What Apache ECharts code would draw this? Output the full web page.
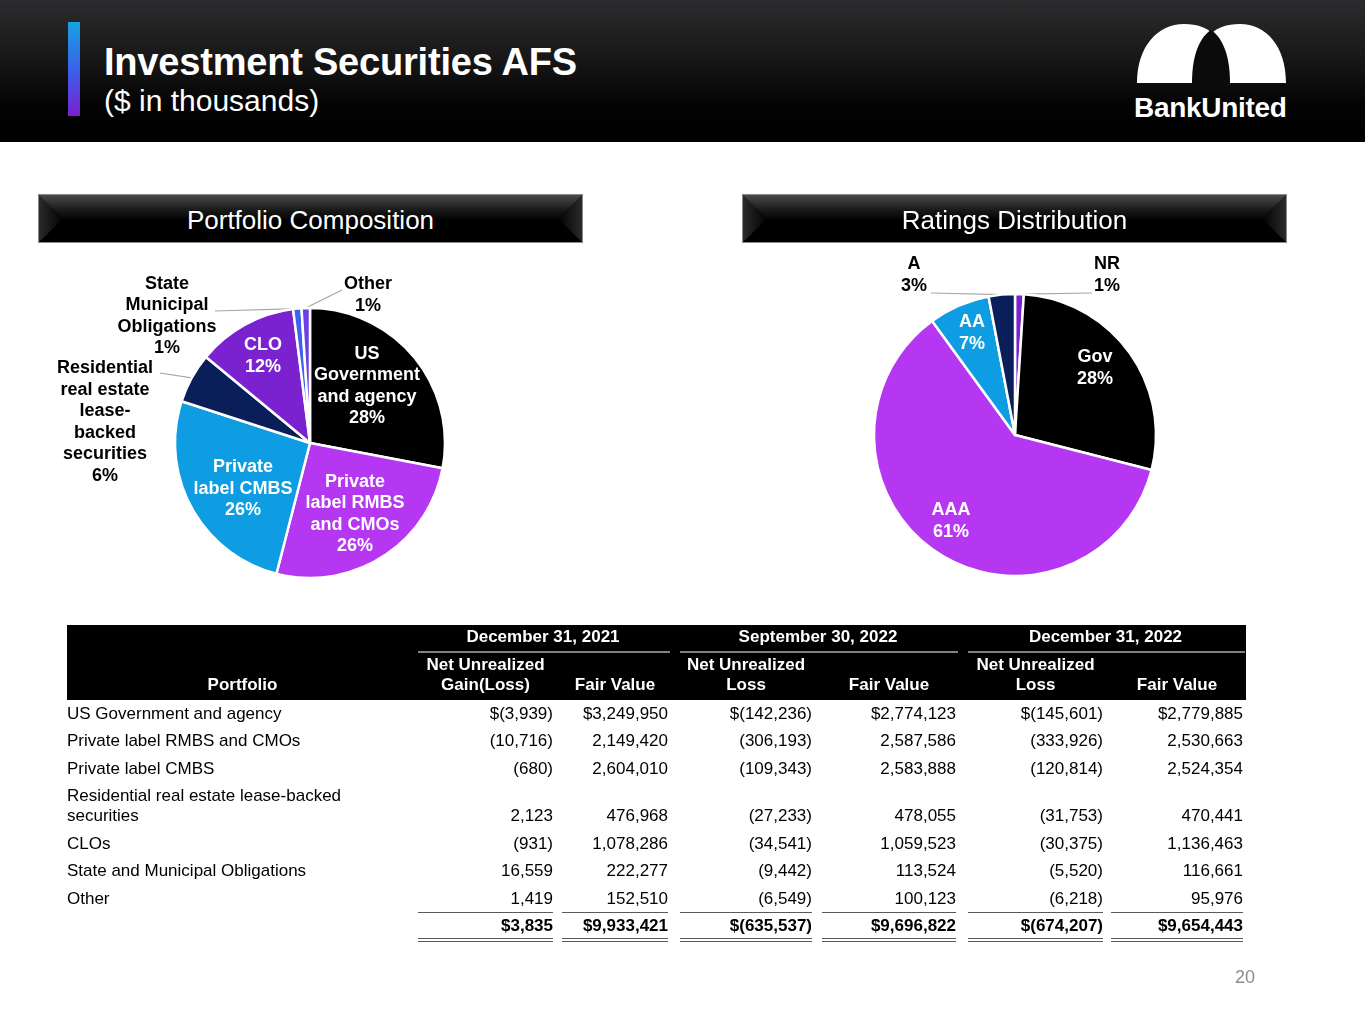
<!DOCTYPE html>
<html>
<head>
<meta charset="utf-8">
<title>Investment Securities AFS</title>
<script src="https://cdn.jsdelivr.net/npm/echarts/dist/echarts.min.js"></script>
<style>
  body { margin: 0; width: 1365px; height: 1024px; background: #fff; position: relative; overflow: hidden;
         font-family: Arial, "Liberation Sans", sans-serif; }
  #chart { position: absolute; left: 0; top: 0; width: 1365px; height: 1024px; }
  #header { position: absolute; left: 0; top: 0; width: 1365px; height: 142px;
            background: linear-gradient(to bottom, #2c2c2e 0%, #151515 45%, #030303 75%, #000 100%); }
  #accent { position: absolute; left: 68px; top: 22px; width: 12px; height: 94px;
            background: linear-gradient(to bottom, #16a2e2 0%, #3a62e8 50%, #7a1fd0 100%); }
  #title { position: absolute; left: 104px; top: 43px; color: #fff; font-weight: bold; font-size: 38px;
           line-height: 38px; letter-spacing: -0.2px; white-space: nowrap; }
  #subtitle { position: absolute; left: 104px; top: 86px; color: #fff; font-size: 30px; line-height: 30px; white-space: nowrap; }
  #logo { position: absolute; left: 1130px; top: 18px; }
  #logoText { position: absolute; left: 1134px; top: 93px; color: #fff; font-weight: bold; font-size: 28px;
              line-height: 30px; letter-spacing: -0.3px; }
  .bar { position: absolute; top: 194px; width: 545px; height: 49px; box-sizing: border-box; border: 1px solid #8a8a8a;
         background: linear-gradient(to bottom, #4a4a4a 0%, #1c1c1c 30%, #000 55%, #000 100%);
         color: #fff; font-size: 26px; line-height: 50px; text-align: center; overflow: hidden; }
  .bar::before, .bar::after { content: ''; position: absolute; top: 0; width: 22px; height: 100%; }
  .bar::before { left: 0; clip-path: polygon(0 0, 100% 45%, 100% 55%, 0 100%);
                 background: linear-gradient(to right, #2a2a2a, #050505); }
  .bar::after { right: 0; clip-path: polygon(100% 0, 0 45%, 0 55%, 100% 100%);
                background: linear-gradient(to left, #2a2a2a, #050505); }
  .bar span { position: relative; z-index: 1; }
  .cell { position: absolute; display: flex; align-items: flex-end; box-sizing: border-box; padding-bottom: 4px;
          font-size: 17px; line-height: 20px; color: #000; }
  .num { justify-content: flex-end; white-space: nowrap; }
  .hd { color: #fff; font-weight: bold; font-size: 17px; justify-content: center; text-align: center; }
  .rule { position: absolute; height: 0; }
  #page { position: absolute; left: 1225px; top: 967px; width: 40px; text-align: center; color: #8c8c8c; font-size: 18px; }
</style>
</head>
<body>
<div id="chart"></div>
<div id="header"></div>
<div id="accent"></div>
<div id="title">Investment Securities AFS</div>
<div id="subtitle">($ in thousands)</div>
<svg id="logo" width="160" height="72" viewBox="1130 18 160 72">
  <path d="M1137,83 C1137,46 1158,24 1184,24 C1198,24 1207,28 1212,33 C1217,28 1226,24 1240,24 C1266,24 1286,46 1286,83 Z" fill="#fff"/>
  <path d="M1192,83 C1192,56 1199,38 1211,30 C1223,38 1230,56 1230,83 Z" fill="#0b0b0b"/>
</svg>
<div id="logoText">BankUnited</div>
<div class="bar" style="left:38px"><span>Portfolio Composition</span></div>
<div class="bar" style="left:742px"><span>Ratings Distribution</span></div>
<div id="table"></div>
<div id="page">20</div>

<script>
// 饼图数据 - Portfolio Composition
const compNames = ['US Government and agency', 'Private label RMBS and CMOs', 'Private label CMBS',
    'Residential real estate lease-backed securities', 'CLO', 'State Municipal Obligations', 'Other'];
const compLabels = ['US\nGovernment\nand agency', 'Private\nlabel RMBS\nand CMOs', 'Private\nlabel CMBS',
    'Residential\nreal estate\nlease-\nbacked\nsecurities', 'CLO', 'State\nMunicipal\nObligations', 'Other'];
const compPct = [28, 26, 26, 6, 12, 1, 1];

// Ratings Distribution
const ratingNames = ['NR', 'Gov', 'AAA', 'AA', 'A'];
const ratingPct = [1, 28, 61, 7, 3];

// 表格数据
const portfolioNames = ['US Government and agency', 'Private label RMBS and CMOs', 'Private label CMBS',
    'Residential real estate lease-backed securities', 'CLOs', 'State and Municipal Obligations', 'Other'];
const dec21Gain = [-3939, -10716, -680, 2123, -931, 16559, 1419];
const dec21Fair = [3249950, 2149420, 2604010, 476968, 1078286, 222277, 152510];
const sep22Loss = [-142236, -306193, -109343, -27233, -34541, -9442, -6549];
const sep22Fair = [2774123, 2587586, 2583888, 478055, 1059523, 113524, 100123];
const dec22Loss = [-145601, -333926, -120814, -31753, -30375, -5520, -6218];
const dec22Fair = [2779885, 2530663, 2524354, 470441, 1136463, 116661, 95976];
const totals = [3835, 9933421, -635537, 9696822, -674207, 9654443];
const groupTitles = ['December 31, 2021', 'September 30, 2022', 'December 31, 2022'];
const colTitles = ['Net Unrealized\nGain(Loss)', 'Fair Value', 'Net Unrealized\nLoss', 'Fair Value', 'Net Unrealized\nLoss', 'Fair Value'];

// 样式
const compColors = ['#000000', '#b537f2', '#0e9de2', '#0a1e5a', '#7a22d0', '#3e62ea', '#6e3ee6'];
const compInside = [true, true, true, false, true, false, false];
const ratingColors = ['#7a22d0', '#000000', '#b537f2', '#0e9de2', '#0a1e5a'];
const ratingInside = [false, true, true, true, false];
// label anchor [x, y, lineEndX, lineEndY]
const compLabelPos = [[367, 386], [355, 514], [243, 489], [105, 422, 160, 373], [263, 356], [167, 316, 215, 311], [368, 295, 342, 290]];
const ratingLabelPos = [[1107, 275, 1092, 293], [1095, 368], [951, 521], [972, 333], [914, 275, 931, 293]];

initPies();
initTable();

function pieSeries(names, labels, values, colors, inside, pos, center, radius) {
    let data = [];
    for (let i = 0; i < values.length; i++) {
        data.push({
            name: names[i],
            value: values[i],
            itemStyle: { color: colors[i] },
            label: {
                position: inside[i] ? 'inside' : 'outside',
                color: inside[i] ? '#ffffff' : '#000000',
                formatter: labels[i] + '\n' + values[i] + '%'
            },
            labelLine: { show: !inside[i] }
        });
    }
    return {
        type: 'pie',
        center: center,
        radius: radius,
        startAngle: 90,
        clockwise: true,
        avoidLabelOverlap: false,
        animation: false,
        emphasis: { disabled: true },
        itemStyle: { borderColor: '#ffffff', borderWidth: 2.5 },
        label: {
            fontFamily: 'Arial, "Liberation Sans", sans-serif',
            fontSize: 18,
            fontWeight: 'bold',
            lineHeight: 21.5,
            align: 'center'
        },
        labelLine: { lineStyle: { color: '#a6a6a6', width: 1.2 }, length: 10, length2: 10 },
        labelLayout: function (params) {
            let p = pos[params.dataIndex];
            let out = { x: p[0], y: p[1], align: 'center', verticalAlign: 'middle' };
            if (p.length > 2 && params.labelLinePoints) {
                let a = params.labelLinePoints[0];
                out.labelLinePoints = [a, [p[2], p[3]], [p[2], p[3]]];
            }
            return out;
        },
        data: data
    };
}

function initPies() {
    let chart = echarts.init(document.getElementById('chart'));
    chart.setOption({
        animation: false,
        series: [
            pieSeries(compNames, compLabels, compPct, compColors, compInside, compLabelPos, [310, 443], 135),
            pieSeries(ratingNames, ratingNames, ratingPct, ratingColors, ratingInside, ratingLabelPos, [1015, 435], 141)
        ]
    });
}

// 表格
function fmt(v, dollar) {
    let s = Math.abs(v).toLocaleString('en-US');
    return (dollar ? '$' : '') + (v < 0 ? '(' + s + ')' : s);
}

function addDiv(cls, style, html) {
    let d = document.createElement('div');
    d.className = cls;
    Object.assign(d.style, style);
    d.innerHTML = html;
    document.getElementById('table').appendChild(d);
    return d;
}

function initTable() {
    let cols = [[418, 553], [562, 668], [680, 812], [822, 956], [968, 1103], [1111, 1243]];
    let values = [dec21Gain, dec21Fair, sep22Loss, sep22Fair, dec22Loss, dec22Fair];

    // 表头
    addDiv('', { position: 'absolute', left: '67px', top: '625px', width: '1179px', height: '75px', background: '#000' }, '');
    for (let g = 0; g < 3; g++) {
        let l = cols[g * 2][0], r = cols[g * 2 + 1][1];
        addDiv('cell hd', { left: l + 'px', top: '624px', width: (r - l) + 'px', height: '27px' }, groupTitles[g]);
        addDiv('rule', { left: l + 'px', top: '651px', width: (r - l + 2) + 'px', borderTop: '2px solid #7f7f7f' }, '');
    }
    addDiv('cell hd', { left: '67px', top: '655px', width: '351px', height: '44px' }, 'Portfolio');
    for (let c = 0; c < 6; c++) {
        addDiv('cell hd', { left: cols[c][0] + 'px', top: '655px', width: (cols[c][1] - cols[c][0]) + 'px', height: '44px' },
            colTitles[c].replace('\n', '<br>'));
    }

    // 数据行
    let rowH = [27.5, 27.5, 27.5, 47.5, 27.5, 27.5, 27.5];
    let top = 700;
    for (let i = 0; i < portfolioNames.length; i++) {
        addDiv('cell', { left: '67px', top: top + 'px', width: '300px', height: rowH[i] + 'px' }, portfolioNames[i]);
        for (let c = 0; c < 6; c++) {
            addDiv('cell num', { left: cols[c][0] + 'px', top: top + 'px', width: (cols[c][1] - cols[c][0]) + 'px', height: rowH[i] + 'px' },
                fmt(values[c][i], i === 0));
        }
        top += rowH[i];
    }

    // 合计
    for (let c = 0; c < 6; c++) {
        let w = (cols[c][1] - cols[c][0]) + 'px';
        addDiv('rule', { left: cols[c][0] + 'px', top: (top - 0.5) + 'px', width: w, borderTop: '1.5px solid #595959' }, '');
        addDiv('cell num', { left: cols[c][0] + 'px', top: top + 'px', width: w, height: '27.5px', fontWeight: 'bold' },
            fmt(totals[c], true));
        addDiv('rule', { left: cols[c][0] + 'px', top: (top + 25) + 'px', width: w, borderTop: '1.2px solid #595959' }, '');
        addDiv('rule', { left: cols[c][0] + 'px', top: (top + 28) + 'px', width: w, borderTop: '1.2px solid #595959' }, '');
    }
}
</script>
</body>
</html>
